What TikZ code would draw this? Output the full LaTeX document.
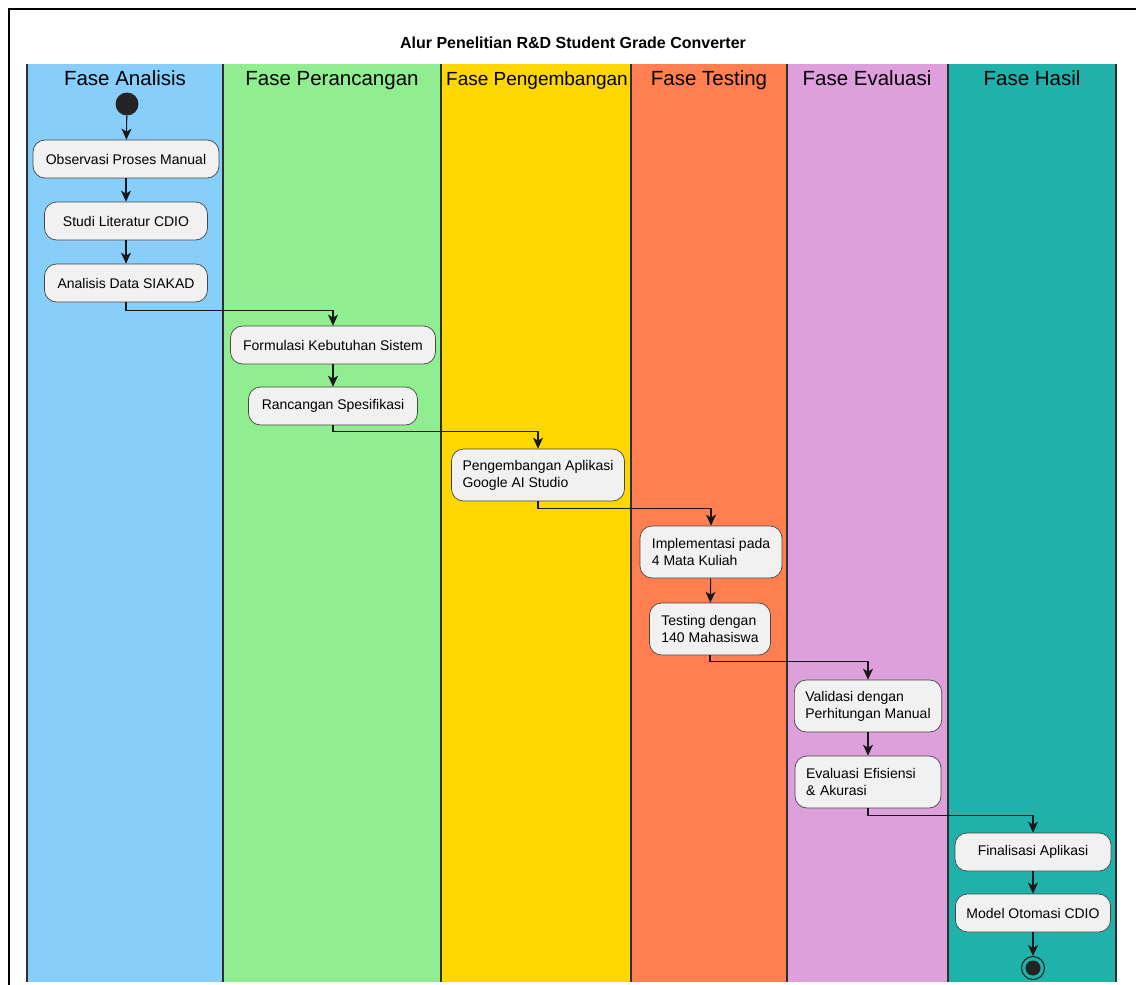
\documentclass[tikz,border=0pt]{standalone}
\usepackage{fontspec}
\setmainfont{Liberation Sans}
\usetikzlibrary{arrows.meta, positioning}

\definecolor{analisis}{HTML}{87CEFA}
\definecolor{rancang}{HTML}{90EE90}
\definecolor{kembang}{HTML}{FFD700}
\definecolor{testing}{HTML}{FF7F50}
\definecolor{evaluasi}{HTML}{DDA0DD}
\definecolor{hasil}{HTML}{20B2AA}
\definecolor{actfill}{HTML}{F1F1F1}
\definecolor{ink}{HTML}{181818}

\tikzset{
  act/.style={draw=ink!80, fill=actfill, rounded corners=12pt, line width=0.7pt,
    inner xsep=11pt, minimum height=38pt, align=left,
    font=\fontsize{14}{17}\selectfont},
  act2/.style={act, minimum height=52pt},
  flow/.style={draw=ink, line width=1.1pt, -{Stealth[length=11pt,width=10pt,inset=3pt]}},
  lanetitle/.style={anchor=base, font=\fontsize{20.5}{24}\selectfont},
  laneline/.style={draw=ink!90, line width=1.6pt},
}

\begin{document}
\begin{tikzpicture}[x=1pt, y=-1pt]
  \useasboundingbox (0,0) rectangle (1136,985);
  \clip (0,0) rectangle (1136,985);
  \fill[white] (0,0) rectangle (1136,985);

  % frame and title
  \draw[line width=2.6pt] (9,9) rectangle (1160,1010);
  \node[font=\bfseries\fontsize{16}{19}\selectfont] (title) at (573,43) {Alur Penelitian R\&D Student Grade Converter};

  % swimlanes
  \fill[analisis] (27,64) rectangle (223,982);
  \fill[rancang] (223,64) rectangle (441,982);
  \fill[kembang] (441,64) rectangle (631,982);
  \fill[testing] (631,64) rectangle (787,982);
  \fill[evaluasi] (787,64) rectangle (948,982);
  \fill[hasil] (948,64) rectangle (1116,982);
  \draw[laneline] (27,64) -- (27,982);
  \draw[laneline] (223,64) -- (223,982);
  \draw[laneline] (441,64) -- (441,982);
  \draw[laneline] (631,64) -- (631,982);
  \draw[laneline] (787,64) -- (787,982);
  \draw[laneline] (948,64) -- (948,982);
  \draw[laneline] (1116,64) -- (1116,982);

  \node[lanetitle] (t1) at (125,85) {Fase Analisis};
  \node[lanetitle] (t2) at (332,85) {Fase Perancangan};
  \node[lanetitle, font=\fontsize{19}{22}\selectfont] (t3) at (537,85) {Fase Pengembangan};
  \node[lanetitle] (t4) at (709,85) {Fase Testing};
  \node[lanetitle] (t5) at (867,85) {Fase Evaluasi};
  \node[lanetitle] (t6) at (1032,85) {Fase Hasil};

  % activities
  \node[circle, fill=ink!95, minimum size=23pt, inner sep=0pt] (start) at (127,104) {};
  \node[act, minimum width=186pt] (observasi) at (126,159) {Observasi Proses Manual};
  \node[act, minimum width=163pt] (literatur) at (126,221) {Studi Literatur CDIO};
  \node[act, minimum width=163pt] (siakad) at (126,283) {Analisis Data SIAKAD};
  \node[act, minimum width=205pt] (formulasi) at (333,345) {Formulasi Kebutuhan Sistem};
  \node[act, minimum width=169pt] (spesifikasi) at (333,406) {Rancangan Spesifikasi};
  \node[act2, minimum width=170pt] (aplikasi) at (538,475) {Pengembangan Aplikasi\\Google AI Studio};
  \node[act2, minimum width=142pt] (implementasi) at (711,552) {Implementasi pada\\4 Mata Kuliah};
  \node[act2, minimum width=121pt] (uji) at (710,629) {Testing dengan\\140 Mahasiswa};
  \node[act2, minimum width=146pt] (validasi) at (868,706) {Validasi dengan\\Perhitungan Manual};
  \node[act2, text width=124pt] (efisiensi) at (868,782) {Evaluasi Efisiensi\\\& Akurasi};
  \node[act, minimum width=156pt] (finalisasi) at (1033,852) {Finalisasi Aplikasi};
  \node[act, minimum width=149pt] (model) at (1033,913) {Model Otomasi CDIO};
  \node[circle, draw=ink, line width=1pt, minimum size=23pt, inner sep=0pt] (stop) at (1033,968) {};
  \fill[ink!95] (stop.center) circle (7.5);

  % connectors
  \draw[flow] (start) -- (observasi);
  \draw[flow] (observasi) -- (literatur);
  \draw[flow] (literatur) -- (siakad);
  \draw[flow] (siakad.south) -- ++(0,8) -| (formulasi.north);
  \draw[flow] (formulasi) -- (spesifikasi);
  \draw[flow] (spesifikasi.south) -- ++(0,6) -| (aplikasi.north);
  \draw[flow] (aplikasi.south) -- ++(0,7) -| (implementasi.north);
  \draw[flow] (implementasi) -- (uji);
  \draw[flow] (uji.south) -- ++(0,6) -| (validasi.north);
  \draw[flow] (validasi) -- (efisiensi);
  \draw[flow] (efisiensi.south) -- ++(0,7) -| (finalisasi.north);
  \draw[flow] (finalisasi) -- (model);
  \draw[flow] (model) -- (stop);
\end{tikzpicture}
\end{document}
